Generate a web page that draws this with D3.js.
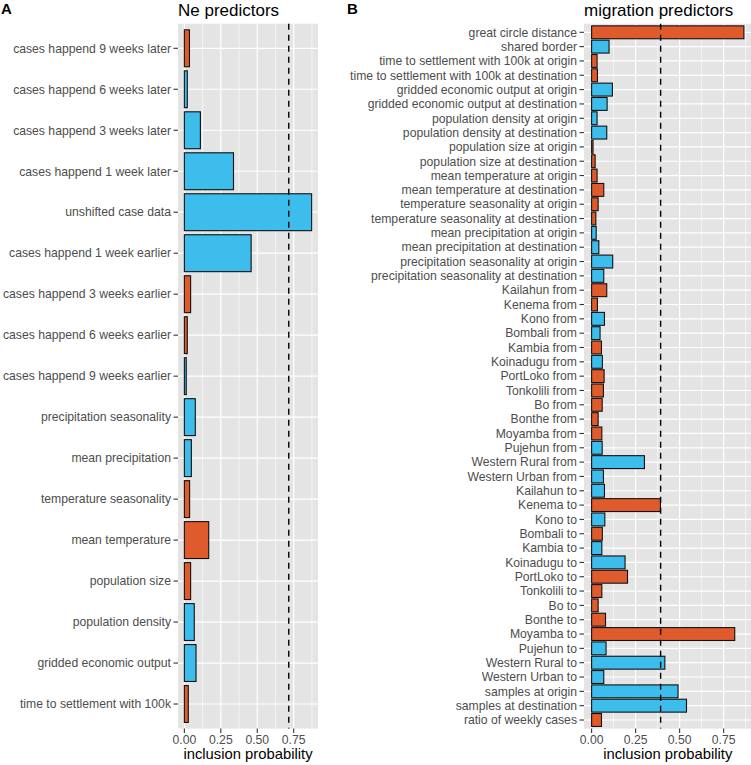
<!DOCTYPE html>
<html>
<head>
<meta charset="utf-8">
<script src="https://cdn.jsdelivr.net/npm/d3@7"></script>
<style>
  body { margin: 0; background: #fff; }
  svg { display: block; font-family: "Liberation Sans", Arial, sans-serif; }
</style>
</head>
<body>
<svg id="chart" width="751" height="765"></svg>
<script>
// panel A: Ne predictors
const neLabels = [
  'cases happend 9 weeks later', 'cases happend 6 weeks later', 'cases happend 3 weeks later',
  'cases happend 1 week later', 'unshifted case data', 'cases happend 1 week earlier',
  'cases happend 3 weeks earlier', 'cases happend 6 weeks earlier', 'cases happend 9 weeks earlier',
  'precipitation seasonality', 'mean precipitation', 'temperature seasonality', 'mean temperature',
  'population size', 'population density', 'gridded economic output', 'time to settlement with 100k'
];
const neValues = [0.035, 0.02, 0.11, 0.337, 0.873, 0.458, 0.043, 0.02, 0.013,
  0.075, 0.048, 0.036, 0.167, 0.043, 0.068, 0.08, 0.027];
// 1 = positive effect (blue), 0 = negative effect (orange)
const neSign = [0, 1, 1, 1, 1, 1, 0, 0, 1, 1, 1, 0, 0, 0, 1, 1, 0];
const neCutoff = 0.716;

// panel B: migration predictors
const migLabels = [
  'great circle distance', 'shared border',
  'time to settlement with 100k at origin', 'time to settlement with 100k at destination',
  'gridded economic output at origin', 'gridded economic output at destination',
  'population density at origin', 'population density at destination',
  'population size at origin', 'population size at destination',
  'mean temperature at origin', 'mean temperature at destination',
  'temperature seasonality at origin', 'temperature seasonality at destination',
  'mean precipitation at origin', 'mean precipitation at destination',
  'precipitation seasonality at origin', 'precipitation seasonality at destination',
  'Kailahun from', 'Kenema from', 'Kono from', 'Bombali from', 'Kambia from', 'Koinadugu from',
  'PortLoko from', 'Tonkolili from', 'Bo from', 'Bonthe from', 'Moyamba from', 'Pujehun from',
  'Western Rural from', 'Western Urban from',
  'Kailahun to', 'Kenema to', 'Kono to', 'Bombali to', 'Kambia to', 'Koinadugu to',
  'PortLoko to', 'Tonkolili to', 'Bo to', 'Bonthe to', 'Moyamba to', 'Pujehun to',
  'Western Rural to', 'Western Urban to',
  'samples at origin', 'samples at destination', 'ratio of weekly cases'
];
const migValues = [0.865, 0.099, 0.031, 0.033, 0.118, 0.088, 0.031, 0.086, 0.008, 0.02,
  0.031, 0.069, 0.037, 0.024, 0.026, 0.041, 0.12, 0.069,
  0.086, 0.033, 0.073, 0.048, 0.056, 0.061, 0.071, 0.067, 0.06, 0.037, 0.058, 0.06, 0.3, 0.067,
  0.073, 0.391, 0.075, 0.061, 0.058, 0.19, 0.204, 0.058, 0.037, 0.079, 0.813, 0.082, 0.416, 0.069,
  0.491, 0.539, 0.056];
const migSign = [0, 1, 0, 0, 1, 1, 1, 1, 0, 0, 0, 0, 0, 0, 1, 1, 1, 1,
  0, 0, 1, 1, 0, 1, 0, 0, 0, 0, 0, 1, 1, 1,
  1, 0, 1, 0, 1, 1, 0, 0, 0, 0, 0, 1, 1, 1,
  1, 1, 0];
const migCutoff = 0.392;

const xTicks = [0, 0.25, 0.5, 0.75];
const xMinor = [0.125, 0.375, 0.625, 0.875];

const colors = { pos: '#3dbdec', neg: '#e05b2b', panel: '#e4e4e5', text: '#4d4d4d', tick: '#333' };
const panelTop = 23.7, panelBottom = 728.6;

const svg = d3.select('#chart');

function drawPanel(opts) {
  const { labels, values, signs, cutoff, left, right, title, tag, tagX } = opts;
  const n = labels.length;
  const maxV = d3.max(values);
  const x = d3.scaleLinear().domain([-0.05 * maxV, 1.05 * maxV]).range([left, right]);
  const y = d3.scaleLinear().domain([0.4, n + 0.6]).range([panelTop, panelBottom]);
  const g = svg.append('g');

  g.append('rect')
    .attr('x', left).attr('y', panelTop)
    .attr('width', right - left).attr('height', panelBottom - panelTop)
    .attr('fill', colors.panel);

  // grid
  g.selectAll('.minor').data(xMinor.filter(v => x(v) < right)).enter().append('line')
    .attr('x1', d => x(d)).attr('x2', d => x(d))
    .attr('y1', panelTop).attr('y2', panelBottom)
    .attr('stroke', '#fff').attr('stroke-width', 0.6);
  g.selectAll('.major').data(xTicks).enter().append('line')
    .attr('x1', d => x(d)).attr('x2', d => x(d))
    .attr('y1', panelTop).attr('y2', panelBottom)
    .attr('stroke', '#fff').attr('stroke-width', 1.2);
  g.selectAll('.hgrid').data(labels).enter().append('line')
    .attr('x1', left).attr('x2', right)
    .attr('y1', (d, i) => y(i + 1)).attr('y2', (d, i) => y(i + 1))
    .attr('stroke', '#fff').attr('stroke-width', 1.2);

  // bars
  g.selectAll('.bar').data(values).enter().append('rect')
    .attr('x', x(0))
    .attr('y', (d, i) => y(i + 1 - 0.45))
    .attr('width', d => x(d) - x(0))
    .attr('height', y(1.45) - y(0.55))
    .attr('fill', (d, i) => signs[i] ? colors.pos : colors.neg)
    .attr('stroke', '#111').attr('stroke-width', 1.1);

  // cutoff
  g.append('line')
    .attr('x1', x(cutoff)).attr('x2', x(cutoff))
    .attr('y1', panelTop).attr('y2', panelBottom)
    .attr('stroke', '#000').attr('stroke-width', 1.4)
    .attr('stroke-dasharray', '6,5');

  // y axis
  const yAxis = g.append('g');
  yAxis.selectAll('line').data(labels).enter().append('line')
    .attr('x1', left - 4.5).attr('x2', left)
    .attr('y1', (d, i) => y(i + 1)).attr('y2', (d, i) => y(i + 1))
    .attr('stroke', colors.tick).attr('stroke-width', 1.1);
  yAxis.selectAll('text').data(labels).enter().append('text')
    .attr('x', left - 7).attr('y', (d, i) => y(i + 1))
    .attr('dy', '0.35em').attr('text-anchor', 'end')
    .attr('font-size', 12.2).attr('fill', colors.text)
    .text(d => d);

  // x axis
  const xAxis = g.append('g');
  xAxis.selectAll('line').data(xTicks).enter().append('line')
    .attr('x1', d => x(d)).attr('x2', d => x(d))
    .attr('y1', panelBottom).attr('y2', panelBottom + 4.5)
    .attr('stroke', colors.tick).attr('stroke-width', 1.1);
  xAxis.selectAll('text').data(xTicks).enter().append('text')
    .attr('x', d => x(d)).attr('y', panelBottom + 15.5)
    .attr('text-anchor', 'middle')
    .attr('font-size', 12.2).attr('fill', colors.text)
    .text(d3.format('.2f'));

  g.append('text')
    .attr('x', (left + right) / 2).attr('y', 759)
    .attr('text-anchor', 'middle').attr('font-size', 14.8).attr('fill', '#000')
    .text('inclusion probability');

  g.append('text')
    .attr('x', left).attr('y', 15.5)
    .attr('font-size', 17).attr('fill', '#000')
    .text(title);

  g.append('text')
    .attr('x', tagX).attr('y', 14)
    .attr('font-size', 15).attr('font-weight', 'bold').attr('fill', '#000')
    .text(tag);
}

drawPanel({ labels: neLabels, values: neValues, signs: neSign, cutoff: neCutoff,
  left: 178, right: 318, title: 'Ne predictors', tag: 'A', tagX: 1 });
drawPanel({ labels: migLabels, values: migValues, signs: migSign, cutoff: migCutoff,
  left: 584, right: 751.5, title: 'migration predictors', tag: 'B', tagX: 347 });
</script>
</body>
</html>
